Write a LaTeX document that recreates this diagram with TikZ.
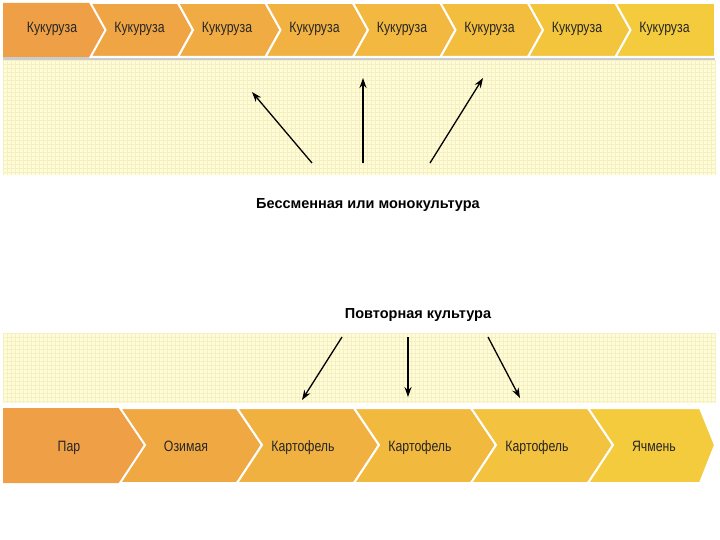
\documentclass[tikz,border=0pt]{standalone}
\usepackage{fontspec}
\setmainfont{Liberation Sans}
\usetikzlibrary{arrows.meta}
\begin{document}
\begin{tikzpicture}[x=1pt,y=-1pt,
  lab/.style={font=\fontsize{15}{17}\selectfont\addfontfeature{FakeStretch=0.82}, text=black!85, anchor=base},
  captxt/.style={font=\bfseries\fontsize{14.5}{17}\selectfont},
  arr/.style={line width=1.3pt,-{Stealth[length=10pt,width=7pt]}}]
\useasboundingbox (0,0) rectangle (720,540);
\fill[white] (0,0) rectangle (720,540);
\definecolor{cA}{HTML}{EF9F45}
\definecolor{cB}{HTML}{F4CB3C}
\definecolor{pan}{HTML}{FFFCDA}
\definecolor{gl}{HTML}{F6EFC0}
% panels
\fill[pan] (3,60) rectangle (715,175);
\foreach \x in {3,7,...,715} \draw[gl,line width=0.3pt] (\x,60) -- (\x,175);
\foreach \y in {60,64,...,175} \draw[gl,line width=0.3pt] (3,\y) -- (715,\y);
\fill[pan] (3,333) rectangle (715,403);
\foreach \x in {3,7,...,715} \draw[gl,line width=0.3pt] (\x,333) -- (\x,403);
\foreach \y in {333,337,...,403} \draw[gl,line width=0.3pt] (3,\y) -- (715,\y);
\fill[gray!40] (3,57) rectangle (715,60);
% top chevrons
\foreach \i/\l in {0/Кукуруза,1/Кукуруза,2/Кукуруза,3/Кукуруза,4/Кукуруза,5/Кукуруза,6/Кукуруза,7/Кукуруза}{
  \pgfmathsetmacro\xa{3+87.5*\i}
  \pgfmathsetmacro\xb{\xa+87.5}
  \pgfmathsetmacro\pc{100-100*\i/7}
  \colorlet{cc}{cA!\pc!cB}
  \ifnum\i=0
    \fill[cc] (\xa,3) -- (\xb,3) -- (\xb+15,30) -- (\xb,57) -- (\xa,57) -- cycle;
  \else\ifnum\i=7
    \fill[cc,draw=white,line width=2pt] (\xa,3) -- (715,3) -- (715,57) -- (\xa,57) -- (\xa+15,30) -- cycle;
  \else
    \fill[cc,draw=white,line width=2pt] (\xa,3) -- (\xb,3) -- (\xb+15,30) -- (\xb,57) -- (\xa,57) -- (\xa+15,30) -- cycle;
  \fi\fi
  \node[lab] (t\i) at (\xa+49,33) {\l};
}
% bottom chevrons
\foreach \i/\l in {0/Пар,1/Озимая,2/Картофель,3/Картофель,4/Картофель,5/Ячмень}{
  \pgfmathsetmacro\xa{3+117*\i}
  \pgfmathsetmacro\xb{\xa+117}
  \pgfmathsetmacro\pc{100-100*\i/5}
  \colorlet{cc}{cA!\pc!cB}
  \ifnum\i=0
    \fill[cc] (\xa,408) -- (\xb,408) -- (\xb+25,445) -- (\xb,483) -- (\xa,483) -- cycle;
  \else\ifnum\i=5
    \fill[cc,draw=white,line width=2pt] (\xa,408) -- (700,408) -- (715,445) -- (700,483) -- (\xa,483) -- (\xa+25,445) -- cycle;
  \else
    \fill[cc,draw=white,line width=2pt] (\xa,408) -- (\xb,408) -- (\xb+25,445) -- (\xb,483) -- (\xa,483) -- (\xa+25,445) -- cycle;
  \fi\fi
  \node[lab] (b\i) at (\xa+66,451) {\l};
}
\node[captxt] (mono) at (368,205) {Бессменная или монокультура};
\node[captxt] (rep) at (418,315) {Повторная культура};
\coordinate (m1) at (312,163); \coordinate (m1e) at (252,92);
\coordinate (m2) at (363,163); \coordinate (m2e) at (363,78);
\coordinate (m3) at (430,163); \coordinate (m3e) at (483,78);
\draw[arr] (m1) -- (m1e); \draw[arr] (m2) -- (m2e); \draw[arr] (m3) -- (m3e);
\coordinate (r1) at (342,337); \coordinate (r1e) at (302,400);
\coordinate (r2) at (408,337); \coordinate (r2e) at (408,397);
\coordinate (r3) at (488,337); \coordinate (r3e) at (520,398);
\draw[arr] (r1) -- (r1e); \draw[arr] (r2) -- (r2e); \draw[arr] (r3) -- (r3e);
\end{tikzpicture}
\end{document}
